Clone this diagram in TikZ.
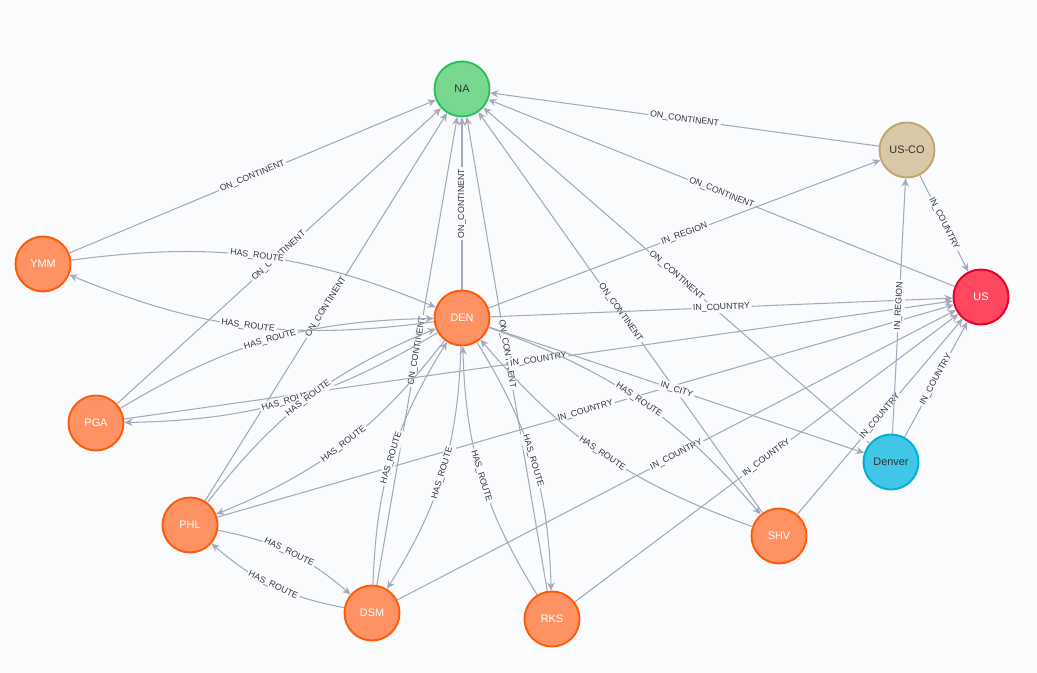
\documentclass[tikz,border=0pt]{standalone}
\usepackage{fontspec}
\setmainfont{Liberation Sans}
\usetikzlibrary{arrows.meta}
\definecolor{bg}{RGB}{249,251,253}
\definecolor{edgec}{RGB}{165,170,186}
\definecolor{lblc}{RGB}{55,55,60}
\definecolor{orfill}{RGB}{255,146,98}
\definecolor{ordraw}{RGB}{255,92,10}
\definecolor{nafill}{RGB}{120,216,144}
\definecolor{nadraw}{RGB}{46,192,92}
\definecolor{cofill}{RGB}{217,200,168}
\definecolor{codraw}{RGB}{192,166,112}
\definecolor{usfill}{RGB}{255,72,96}
\definecolor{usdraw}{RGB}{232,0,40}
\definecolor{dvfill}{RGB}{64,198,230}
\definecolor{dvdraw}{RGB}{0,176,214}
\begin{document}
\begin{tikzpicture}[
  gnode/.style={circle, minimum size=1.1cm, inner sep=0pt, line width=1.1pt, font=\fontsize{6.2}{7}\selectfont},
  airport/.style={gnode, fill=orfill, draw=ordraw, text=white},
  continent/.style={gnode, fill=nafill, draw=nadraw, text=black!80},
  region/.style={gnode, fill=cofill, draw=codraw, text=black!80},
  country/.style={gnode, fill=usfill, draw=usdraw, text=white},
  city/.style={gnode, fill=dvfill, draw=dvdraw, text=black!80},
  rel/.style={draw=edgec, line width=0.6pt, -{Stealth[length=4.6pt,width=4.2pt]}},
  pair/.style={rel, bend left=15},
  lbl/.style={sloped, fill=bg, inner sep=1pt, font=\fontsize{5}{6}\selectfont, text=lblc},
]
\fill[bg] (0,0) rectangle (20.74,-13.46);
\useasboundingbox (0,0) rectangle (20.74,-13.46);

\node[continent] (NA) at (9.24,-1.78) {NA};
\node[region] (USCO) at (18.14,-3.00) {US-CO};
\node[country] (US) at (19.62,-5.94) {US};
\node[airport] (YMM) at (0.86,-5.28) {YMM};
\node[airport] (DEN) at (9.24,-6.36) {DEN};
\node[airport] (PGA) at (1.92,-8.46) {PGA};
\node[airport] (PHL) at (3.80,-10.50) {PHL};
\node[airport] (DSM) at (7.44,-12.26) {DSM};
\node[airport] (RKS) at (11.04,-12.38) {RKS};
\node[airport] (SHV) at (15.58,-10.72) {SHV};
\node[city] (Denver) at (17.82,-9.24) {Denver};

% ON_CONTINENT
\foreach \s in {YMM,PGA,PHL,DEN,DSM,RKS,SHV,Denver,US,USCO}
  \draw[rel] (\s) -- node[lbl]{ON\_CONTINENT} (NA);

% IN_COUNTRY
\foreach \s in {USCO,DEN,PGA,PHL,DSM,RKS,SHV,Denver}
  \draw[rel] (\s) -- node[lbl]{IN\_COUNTRY} (US);

% IN_REGION
\draw[rel] (DEN) -- node[lbl]{IN\_REGION} (USCO);
\draw[rel] (Denver) -- node[lbl]{IN\_REGION} (USCO);

% IN_CITY
\draw[rel] (DEN) -- node[lbl]{IN\_CITY} (Denver);

% HAS_ROUTE
\foreach \a in {YMM,PGA,PHL,DSM,RKS,SHV}{
  \draw[pair] (\a) to node[lbl]{HAS\_ROUTE} (DEN);
  \draw[pair] (DEN) to node[lbl]{HAS\_ROUTE} (\a);
}
\draw[pair] (PHL) to node[lbl]{HAS\_ROUTE} (DSM);
\draw[pair] (DSM) to node[lbl]{HAS\_ROUTE} (PHL);
\end{tikzpicture}
\end{document}
